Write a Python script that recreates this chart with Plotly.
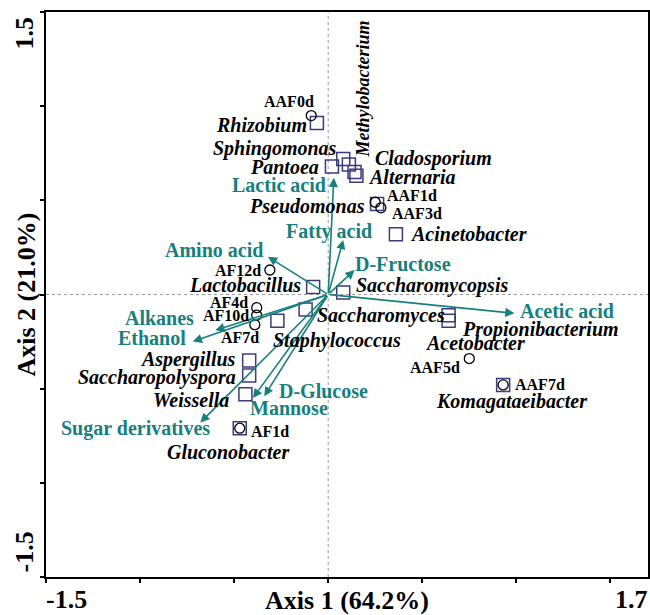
import plotly.graph_objects as go

# ---------------- data ----------------
species = ["Rhizobium", "Sphingomonas", "Methylobacterium", "Pantoea", "Cladosporium",
           "Alternaria", "Pseudomonas", "Acinetobacter", "Lactobacillus", "Saccharomycopsis",
           "Saccharomyces", "Staphylococcus", "Propionibacterium", "Acetobacter",
           "Komagataeibacter", "Aspergillus", "Saccharopolyspora", "Weissella", "Gluconobacter"]
species_x = [-0.06, 0.08, 0.11, 0.02, 0.14, 0.15, 0.26, 0.36, -0.08, 0.08,
             -0.12, -0.27, 0.64, 0.64, 0.93, -0.42, -0.42, -0.44, -0.47]
species_y = [0.91, 0.72, 0.69, 0.68, 0.65, 0.63, 0.48, 0.32, 0.04, 0.01,
             -0.08, -0.14, -0.11, -0.14, -0.48, -0.35, -0.43, -0.53, -0.71]

samples = ["AAF0d", "AAF1d", "AAF3d", "AF12d", "AF4d", "AF10d", "AF7d", "AAF5d", "AAF7d", "AF1d"]
sample_x = [-0.09, 0.25, 0.28, -0.31, -0.38, -0.38, -0.39, 0.75, 0.93, -0.47]
sample_y = [0.95, 0.49, 0.46, 0.13, -0.07, -0.11, -0.16, -0.34, -0.48, -0.71]

variables = ["Lactic acid", "Fatty acid", "D-Fructose", "Amino acid", "Acetic acid",
             "Alkanes", "Ethanol", "Sugar derivatives", "D-Glucose", "Mannose"]
var_x = [0.03, 0.08, 0.14, -0.32, 0.99, -0.60, -0.72, -0.68, -0.34, -0.40]
var_y = [0.62, 0.29, 0.13, 0.20, -0.10, -0.19, -0.25, -0.68, -0.54, -0.55]

x_tick_vals = [-1.5, -1.0, -0.5, 0.0, 0.5, 1.0, 1.5]
y_tick_vals = [-1.5, -1.0, -0.5, 0.0, 0.5, 1.0, 1.5]
x_end_ticks = [-1.5, 1.7]
x_end_labels = ["-1.5", "1.7"]
y_end_ticks = [1.5, -1.5]
y_end_labels = ["1.5", "-1.5"]
x_title = "Axis 1 (64.2%)"
y_title = "Axis 2 (21.0%)"

# ---------------- label placement (pixels) ----------------
species_lab = [  # (xanchor, xshift, yshift, angle)
    ("right", -8, -2, 0), ("right", -4, 10, 0), ("center", 14, 76, -90), ("right", -11, -1, 0),
    ("left", 18, 14, 0), ("left", 10, -1, 0), ("right", -10, -2, 0), ("left", 12, 0, 0),
    ("right", -10, 2, 0), ("left", 11, 7, 0), ("left", 9, -6, 0), ("center", 60, -20, 0),
    ("left", 11, -14, 0), ("left", -26, -22, 0), ("center", 8, -17, 0), ("right", -11, 1, 0),
    ("right", -11, -2, 0), ("right", -14, -6, 0), ("center", -12, -24, 0)]
sample_lab = [("center", -22, 14), ("left", 10, 7), ("left", 9, -6), ("right", -7, 0),
              ("right", -7, 5), ("right", -6, 0), ("center", -15, -13), ("right", -7, -9),
              ("left", 10, 0), ("left", 9, -3)]
var_lab = [("right", -6, -7), ("center", -14, 8), ("left", -2, 6), ("center", -54, 7),
           ("left", 4, 2), ("center", -56, 12), ("center", -41, 4), ("center", -65, -6),
           ("left", 13, 5), ("center", 36, -10)]

TEAL = "#17807d"
NAVY = "#3b3b7c"
FONT = "Liberation Serif"

fig = go.Figure()

fig.add_vline(x=0, line=dict(color="#9a9a9a", width=1, dash="dot"), layer="below")
fig.add_hline(y=0, line=dict(color="#9a9a9a", width=1, dash="dot"), layer="below")

fig.add_trace(go.Scatter(x=species_x, y=species_y, mode="markers", name="Species",
                         marker=dict(symbol="square-open", size=13, color=NAVY,
                                     line=dict(width=1.5, color=NAVY))))
fig.add_trace(go.Scatter(x=sample_x, y=sample_y, mode="markers", name="Samples",
                         marker=dict(symbol="circle-open", size=10, color="black",
                                     line=dict(width=1.3, color="black"))))

ann = []
# arrows
for vx, vy in zip(var_x, var_y):
    ann.append(dict(x=vx, y=vy, ax=0, ay=0, xref="x", yref="y", axref="x", ayref="y",
                    text="", showarrow=True, arrowhead=2, arrowsize=1.15, arrowwidth=1.6,
                    arrowcolor=TEAL, standoff=0))
for name, vx, vy, (xa, dx, dy) in zip(variables, var_x, var_y, var_lab):
    ann.append(dict(x=vx, y=vy, xref="x", yref="y", text="<b>%s</b>" % name, showarrow=False,
                    xanchor=xa, yanchor="middle", xshift=dx, yshift=dy,
                    font=dict(family=FONT, size=20, color=TEAL)))
for name, sx, sy, (xa, dx, dy, ang) in zip(species, species_x, species_y, species_lab):
    ann.append(dict(x=sx, y=sy, xref="x", yref="y", text="<b><i>%s</i></b>" % name,
                    showarrow=False, xanchor=xa, yanchor="middle", xshift=dx, yshift=dy,
                    textangle=ang, font=dict(family=FONT, size=20 if ang == 0 else 18,
                                             color="black")))
for name, sx, sy, (xa, dx, dy) in zip(samples, sample_x, sample_y, sample_lab):
    ann.append(dict(x=sx, y=sy, xref="x", yref="y", text="<b>%s</b>" % name,
                    showarrow=False, xanchor=xa, yanchor="middle", xshift=dx, yshift=dy,
                    font=dict(family=FONT, size=16, color="black")))
# end tick labels
for v, t, xa in zip(x_end_ticks, x_end_labels, ["left", "right"]):
    ann.append(dict(x=v, y=0, xref="x", yref="paper", text="<b>%s</b>" % t, showarrow=False,
                    xanchor=xa, yanchor="middle", yshift=-22, xshift=-2 if xa == "left" else 2,
                    font=dict(family=FONT, size=26, color="black")))
for v, t, ya in zip(y_end_ticks, y_end_labels, ["top", "bottom"]):
    ann.append(dict(x=0, y=v, xref="paper", yref="y", text="<b>%s</b>" % t, showarrow=False,
                    xanchor="center", yanchor=ya, xshift=-22, yshift=-3 if ya == "top" else 2,
                    textangle=-90, font=dict(family=FONT, size=26, color="black")))
# y axis title placed close to the axis as in the reference
ann.append(dict(x=0, y=0.5, xref="paper", yref="paper", text="<b>%s</b>" % y_title,
                showarrow=False, xanchor="center", yanchor="middle", xshift=-20,
                textangle=-90, font=dict(family=FONT, size=26, color="black")))

fig.update_layout(
    width=650, height=615,
    margin=dict(l=46, r=2, t=12, b=38),
    paper_bgcolor="white", plot_bgcolor="white",
    showlegend=False,
    annotations=ann,
    xaxis=dict(range=[-1.5, 1.7], showgrid=False, zeroline=False, showline=True, mirror=True,
               linecolor="black", linewidth=2, ticks="outside", ticklen=4, tickwidth=1.5,
               tickcolor="black", tickvals=x_tick_vals, showticklabels=False,
               title=dict(text="<b>%s</b>" % x_title, standoff=13,
                          font=dict(family=FONT, size=26, color="black")),
               automargin=False),
    yaxis=dict(range=[-1.5, 1.5], showgrid=False, zeroline=False, showline=True, mirror=True,
               linecolor="black", linewidth=2, ticks="outside", ticklen=4, tickwidth=1.5,
               tickcolor="black", tickvals=y_tick_vals, showticklabels=False,
               automargin=False),
)

fig.write_html("out.html")
